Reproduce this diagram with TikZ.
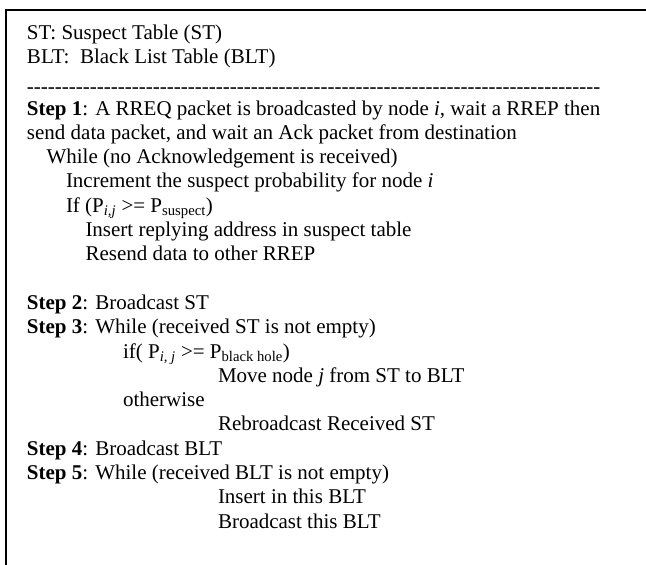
\documentclass[tikz,border=0pt]{standalone}
\usepackage{fontspec}
\setmainfont{Liberation Serif}
\tikzset{
  line/.style={anchor=base west, inner sep=0pt, outer sep=0pt, font=\fontsize{21}{24}\selectfont},
  frame/.style={line width=2pt}
}
\newcommand{\sbt}[1]{\textsubscript{#1}}
% a row of separate hyphens (kerns keep them from joining into dashes)
\newcommand{\hyphenrule}[1]{\foreach \k in {1,...,#1}{-\kern0pt}}
\begin{document}
\begin{tikzpicture}[x=1pt,y=1pt]
  \useasboundingbox (0,0) rectangle (646,-565);
  % open frame: top and left rules only
  \draw[frame] (6,-565) -- (6,-10) -- (646,-10);
  % legend
  \node[line] (l1) at (27,-39) {ST: Suspect Table (ST)};
  \node[line] (l2) at (27,-63) {BLT:\ \ Black List Table (BLT)};
  \node[line] (sep) at (27,-93) {\hyphenrule{82}};
  % step 1
  \node[line] (s1a) at (27,-115) {\textbf{Step 1}: A RREQ packet is broadcasted by node \textit{i}, wait a RREP then};
  \node[line] (s1b) at (27,-139.3) {send data packet, and wait an Ack packet from destination};
  \node[line] (s1c) at (46.5,-163.6) {While (no Acknowledgement is received)};
  \node[line] (s1d) at (66,-187.9) {Increment the suspect probability for node \textit{i}};
  \node[line] (s1e) at (66,-212.2) {If (P\sbt{\textit{i,j}} >= P\sbt{suspect})};
  \node[line] (s1f) at (85.5,-236.5) {Insert replying address in suspect table};
  \node[line] (s1g) at (85.5,-260.8) {Resend data to other RREP};
  % step 2
  \node[line] (s2) at (27,-309.4) {\textbf{Step 2}: Broadcast ST};
  % step 3
  \node[line] (s3a) at (27,-333.7) {\textbf{Step 3}: While (received ST is not empty)};
  \node[line] (s3b) at (123,-358) {if( P\sbt{\textit{i, j}} >= P\sbt{black hole})};
  \node[line] (s3c) at (218,-382.3) {Move node \textit{j} from ST to BLT};
  \node[line] (s3d) at (123,-406.6) {otherwise};
  \node[line] (s3e) at (218,-430.9) {Rebroadcast Received ST};
  % step 4
  \node[line] (s4) at (27,-455.2) {\textbf{Step 4}: Broadcast BLT};
  % step 5
  \node[line] (s5a) at (27,-479.5) {\textbf{Step 5}: While (received BLT is not empty)};
  \node[line] (s5b) at (218,-503.8) {Insert in this BLT};
  \node[line] (s5c) at (218,-528.1) {Broadcast this BLT};
\end{tikzpicture}
\end{document}
